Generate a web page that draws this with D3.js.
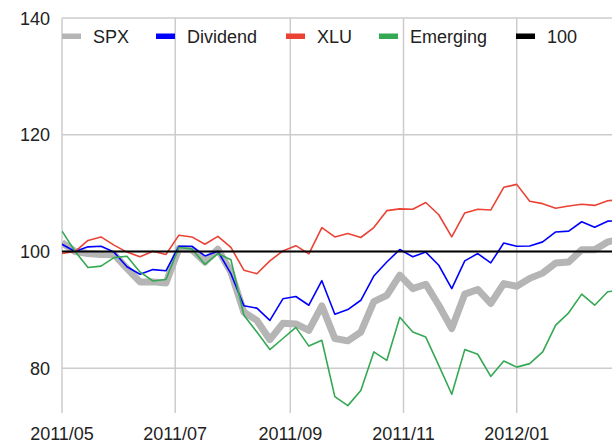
<!DOCTYPE html>
<html><head><meta charset="utf-8">
<script src="https://cdn.jsdelivr.net/npm/d3@7"></script>
<style>body{margin:0;background:#fff}svg{display:block}</style>
</head><body>
<svg id="c" width="612" height="446"></svg>
<script>
const startDate = "2011-05-01";
const seriesNames = ["SPX","Dividend","XLU","Emerging","100"];
const spx = [101.5,100,99.65,99.5,99.5,97.1,94.8,94.8,94.6,100.5,100.3,98.2,100.4,96.5,89.6,88.2,84.9,87.7,87.6,86.5,90.7,85.1,84.7,86.2,91.4,92.5,95.95,93.65,94.4,90.8,86.8,92.7,93.5,91.1,94.5,94.05,95.4,96.3,98.05,98.2,100.3,100.3,101.65,102.1];
const dividend = [101.25,100,100.8,100.9,99.9,97.4,96.1,96.9,96.7,100.9,100.9,99.25,100.05,96.2,90.7,90.3,88.2,91.9,92.3,90.8,95.0,89.25,90.05,91.65,95.8,98.2,100.35,99.1,99.9,97.65,93.65,98.4,99.65,98.05,101.45,100.9,100.95,101.65,103.35,103.5,105.1,104.15,105.2,105.3];
const xlu = [99.66,100,101.9,102.5,101.1,99.9,99.1,100.05,99.5,102.8,102.5,101.25,102.6,100.7,96.8,96.2,98.4,100.1,101.0,99.6,104.1,102.5,103.1,102.4,104.1,107.0,107.3,107.25,108.4,106.3,102.5,106.6,107.25,107.1,111.0,111.5,108.6,108.2,107.4,107.8,108.1,107.9,108.7,108.9];
const emerging = [103.5,100.05,97.25,97.5,98.95,99.2,96.5,94.95,95.2,100.7,100.45,97.8,99.65,98.6,89.1,86.2,83.2,85.1,87.0,83.8,84.8,75.15,73.6,76.2,82.8,81.35,88.75,86.2,85.35,80.5,75.55,83.2,82.4,78.6,81.25,80.2,80.8,82.8,87.4,89.5,92.7,90.8,93.1,93.4];
const hundred = [100,100,100,100,100,100,100,100,100,100,100,100,100,100,100,100,100,100,100,100,100,100,100,100,100,100,100,100,100,100,100,100,100,100,100,100,100,100,100,100,100,100,100,100];
const yTicks = [80,100,120,140];
const xTicks = ["2011-05-01","2011-07-01","2011-09-01","2011-11-01","2012-01-01"];

const colors = ["#b5b5b5","#0000ff","#ea4335","#34a853","#000000"];
const widths = [7,1.6,1.6,1.6,2];
const allSeries = [spx, dividend, xlu, emerging, hundred];

const start = new Date(startDate + "T00:00:00Z");
const dates = d3.utcSunday.range(start, d3.utcDay.offset(start, 7*spx.length));

const svg = d3.select("#c");
const L = 62, T = 18, B = 413, R = 612;
const x = d3.scaleUtc().domain([start, new Date("2012-02-21T08:00:00Z")]).range([L, R]);
const y = d3.scaleLinear().domain([72.34, 140]).range([B, T]);
const font = "'Liberation Sans', Arial, sans-serif";

// horizontal gridlines
svg.append("g").selectAll("line").data(yTicks).join("line")
  .attr("x1", L).attr("x2", R).attr("y1", d => y(d)).attr("y2", d => y(d))
  .attr("stroke", "#cccccc").attr("stroke-width", 1.5);
// vertical gridlines
svg.append("g").selectAll("line").data(xTicks).join("line")
  .attr("x1", d => x(new Date(d+"T00:00:00Z"))).attr("x2", d => x(new Date(d+"T00:00:00Z")))
  .attr("y1", T).attr("y2", B)
  .attr("stroke", "#cccccc").attr("stroke-width", 1.5);

// y labels
svg.append("g").selectAll("text").data(yTicks).join("text")
  .attr("x", 50).attr("y", d => y(d) + 6.5).attr("text-anchor", "end")
  .attr("font-family", font).attr("font-size", 18).attr("fill", "#222")
  .text(d => d);
// x labels
const fmt = d3.utcFormat("%Y/%m");
svg.append("g").selectAll("text").data(xTicks).join("text")
  .attr("x", d => x(new Date(d+"T00:00:00Z"))).attr("y", 440).attr("text-anchor", "middle")
  .attr("font-family", font).attr("font-size", 18).attr("fill", "#222")
  .text(d => fmt(new Date(d+"T00:00:00Z")));

// lines
svg.append("clipPath").attr("id","clip").append("rect").attr("x", L).attr("y", 0).attr("width", R-L).attr("height", B);
const line = d3.line().x((d,i) => x(dates[i])).y(d => y(d));
svg.append("g").attr("clip-path","url(#clip)").selectAll("path").data(allSeries).join("path")
  .attr("d", d => line(d)).attr("fill", "none")
  .attr("stroke", (d,i) => colors[i]).attr("stroke-width", (d,i) => widths[i])
  .attr("stroke-linejoin", "round");

// legend
const legX = [62, 156, 286, 379, 516];
const lg = svg.append("g").selectAll("g").data(seriesNames).join("g")
  .attr("transform", (d,i) => `translate(${legX[i]},36)`);
lg.append("rect").attr("x", 0).attr("y", -2.5).attr("width", 19).attr("height", 5.5)
  .attr("fill", (d,i) => colors[i]);
lg.append("text").attr("x", 31).attr("y", 7).attr("font-family", font).attr("font-size", 18)
  .attr("fill", "#222").text(d => d);
</script>
</body></html>
